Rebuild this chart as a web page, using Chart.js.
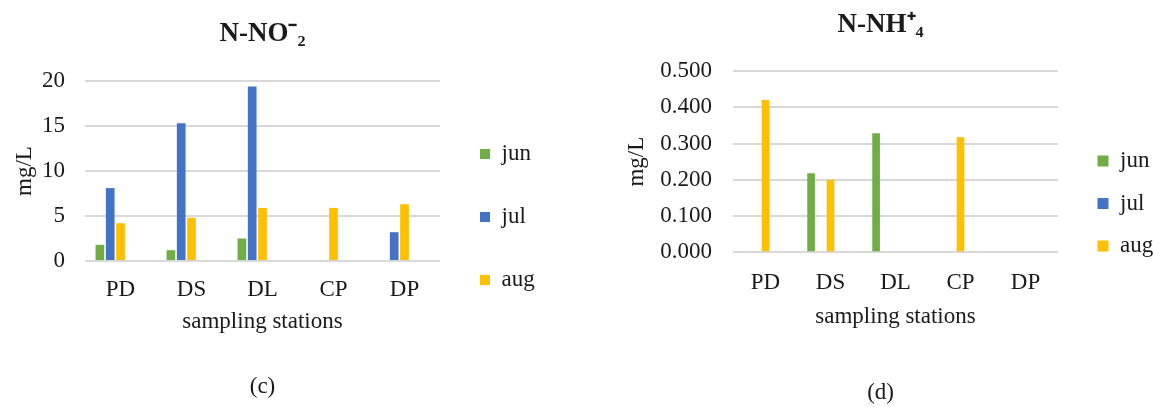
<!DOCTYPE html>
<html>
<head>
<meta charset="utf-8">
<script src="https://cdn.jsdelivr.net/npm/chart.js@4.4.1/dist/chart.umd.min.js"></script>
<style>
  html, body { margin: 0; padding: 0; background: #ffffff; }
  .box { position: absolute; top: 0; height: 407px; }
</style>
</head>
<body>
<div class="box" style="left:0px;width:536px;"><canvas id="chartNO2"></canvas></div>
<div class="box" style="left:618px;width:535px;"><canvas id="chartNH4"></canvas></div>
<script>
// ---- data ----
const stations = ['PD', 'DS', 'DL', 'CP', 'DP'];
const seriesNames = ['jun', 'jul', 'aug'];

const no2Jun = [1.8, 1.2, 2.5, null, null];
const no2Jul = [8.1, 15.3, 19.4, null, 3.2];
const no2Aug = [4.2, 4.8, 5.9, 5.9, 6.3];

const nh4Jun = [null, 0.218, 0.328, null, null];
const nh4Jul = [null, null, null, null, null];
const nh4Aug = [0.420, 0.200, null, 0.317, null];

// two empty series slots present in the original chart (no data, not in legend)
const emptySeries = [null, null, null, null, null];

const no2TickValues = [0, 5, 10, 15, 20];
const nh4TickValues = [0, 0.1, 0.2, 0.3, 0.4, 0.5];

const seriesColors = ['#70AD47', '#4472C4', '#FFC000'];

// ---- helpers ----
const FONT = "'Liberation Serif', 'Times New Roman', serif";
const TXT = '#1a1a1a';

const legendShift = {
  id: 'legendShift',
  afterLayout(chart, args, opts) {
    const lg = chart.legend;
    if (!lg) return;
    const dx = opts.dx || 0, dy = opts.dy || 0;
    lg.left += dx; lg.right += dx; lg.top += dy; lg.bottom += dy;
  }
};

function buildChart(id, cfg) {
  const datasets = [cfg.jun, cfg.jul, cfg.aug, emptySeries, emptySeries].map((d, i) => ({
    label: i < 3 ? seriesNames[i] : 'empty' + i,
    data: d,
    backgroundColor: i < 3 ? seriesColors[i] : 'rgba(0,0,0,0)',
    borderWidth: 0,
    categoryPercentage: cfg.catPct,
    barPercentage: cfg.barPct
  }));
  return new Chart(document.getElementById(id), {
    type: 'bar',
    data: { labels: stations, datasets },
    plugins: [legendShift],
    options: {
      responsive: true,
      maintainAspectRatio: false,
      animation: false,
      devicePixelRatio: 1,
      layout: { padding: { left: 0, right: cfg.padRight, top: 0, bottom: 0 } },
      scales: {
        x: {
          grid: { display: false, drawTicks: false },
          border: { display: false },
          ticks: { color: TXT, font: { family: FONT, size: 23 }, padding: cfg.xTickPad },
          title: { display: true, text: 'sampling stations', color: TXT,
                   font: { family: FONT, size: 23 }, padding: { top: 0, bottom: 0 } },
          afterFit(scale) { scale.height = cfg.xHeight; }
        },
        y: {
          min: cfg.ticks[0],
          max: cfg.ticks[cfg.ticks.length - 1],
          afterBuildTicks(scale) { scale.ticks = cfg.ticks.map(v => ({ value: v })); },
          grid: { color: '#d9d9d9', lineWidth: 2, drawTicks: false },
          border: { display: false },
          ticks: { color: TXT, font: { family: FONT, size: 23 }, padding: cfg.yTickPad,
                   callback: v => Number(v).toFixed(cfg.decimals) },
          title: { display: true, text: 'mg/L', color: TXT,
                   font: { family: FONT, size: 23 }, padding: { top: cfg.yTitlePad, bottom: 0 } },
          afterFit(scale) { scale.width = cfg.yWidth; }
        }
      },
      plugins: {
        legend: {
          position: 'right',
          align: 'center',
          labels: {
            color: TXT,
            font: { family: FONT, size: 23 },
            boxWidth: cfg.box, boxHeight: cfg.box,
            padding: cfg.legendPad,
            filter: item => item.datasetIndex < 3
          }
        },
        legendShift: { dx: cfg.legendDx, dy: cfg.legendDy },
        title: {
          display: true, text: cfg.title, color: TXT,
          fullSize: cfg.titleFull,
          font: { family: FONT, size: 27, weight: 'bold', lineHeight: 1.2 },
          padding: { top: cfg.titlePadTop, bottom: cfg.titlePadBottom }
        },
        subtitle: {
          display: true, text: cfg.caption, position: 'bottom', color: TXT,
          fullSize: cfg.captionFull,
          font: { family: FONT, size: 23 },
          padding: { top: cfg.capPadTop, bottom: cfg.capPadBottom }
        },
        tooltip: { enabled: false }
      }
    }
  });
}

buildChart('chartNO2', {
  jun: no2Jun, jul: no2Jul, aug: no2Aug,
  ticks: no2TickValues, decimals: 0,
  title: 'N-NO\u207B\u2082', caption: '(c)', titleFull: false, captionFull: false,
  catPct: 0.725, barPct: 0.845,
  padRight: -8.7, xTickPad: 15, xHeight: 74.8,
  yTickPad: 20, yTitlePad: 11, yWidth: 85,
  box: 10, legendPad: 40, legendDx: 0, legendDy: 13.5,
  titlePadTop: 17.8, titlePadBottom: 30.8,
  capPadTop: 37.4, capPadBottom: 6.2
});

buildChart('chartNH4', {
  jun: nh4Jun, jul: nh4Jul, aug: nh4Aug,
  ticks: nh4TickValues, decimals: 3,
  title: 'N-NH\u207A\u2084', caption: '(d)', titleFull: true, captionFull: true,
  catPct: 0.746, barPct: 0.79,
  padRight: 9.8, xTickPad: 17, xHeight: 78.5,
  yTickPad: 21, yTitlePad: 5.2, yWidth: 115,
  box: 11, legendPad: 19.5, legendDx: 20, legendDy: 0,
  titlePadTop: 8.8, titlePadBottom: 29.8,
  capPadTop: 48.6, capPadBottom: 0
});
</script>
</body>
</html>
